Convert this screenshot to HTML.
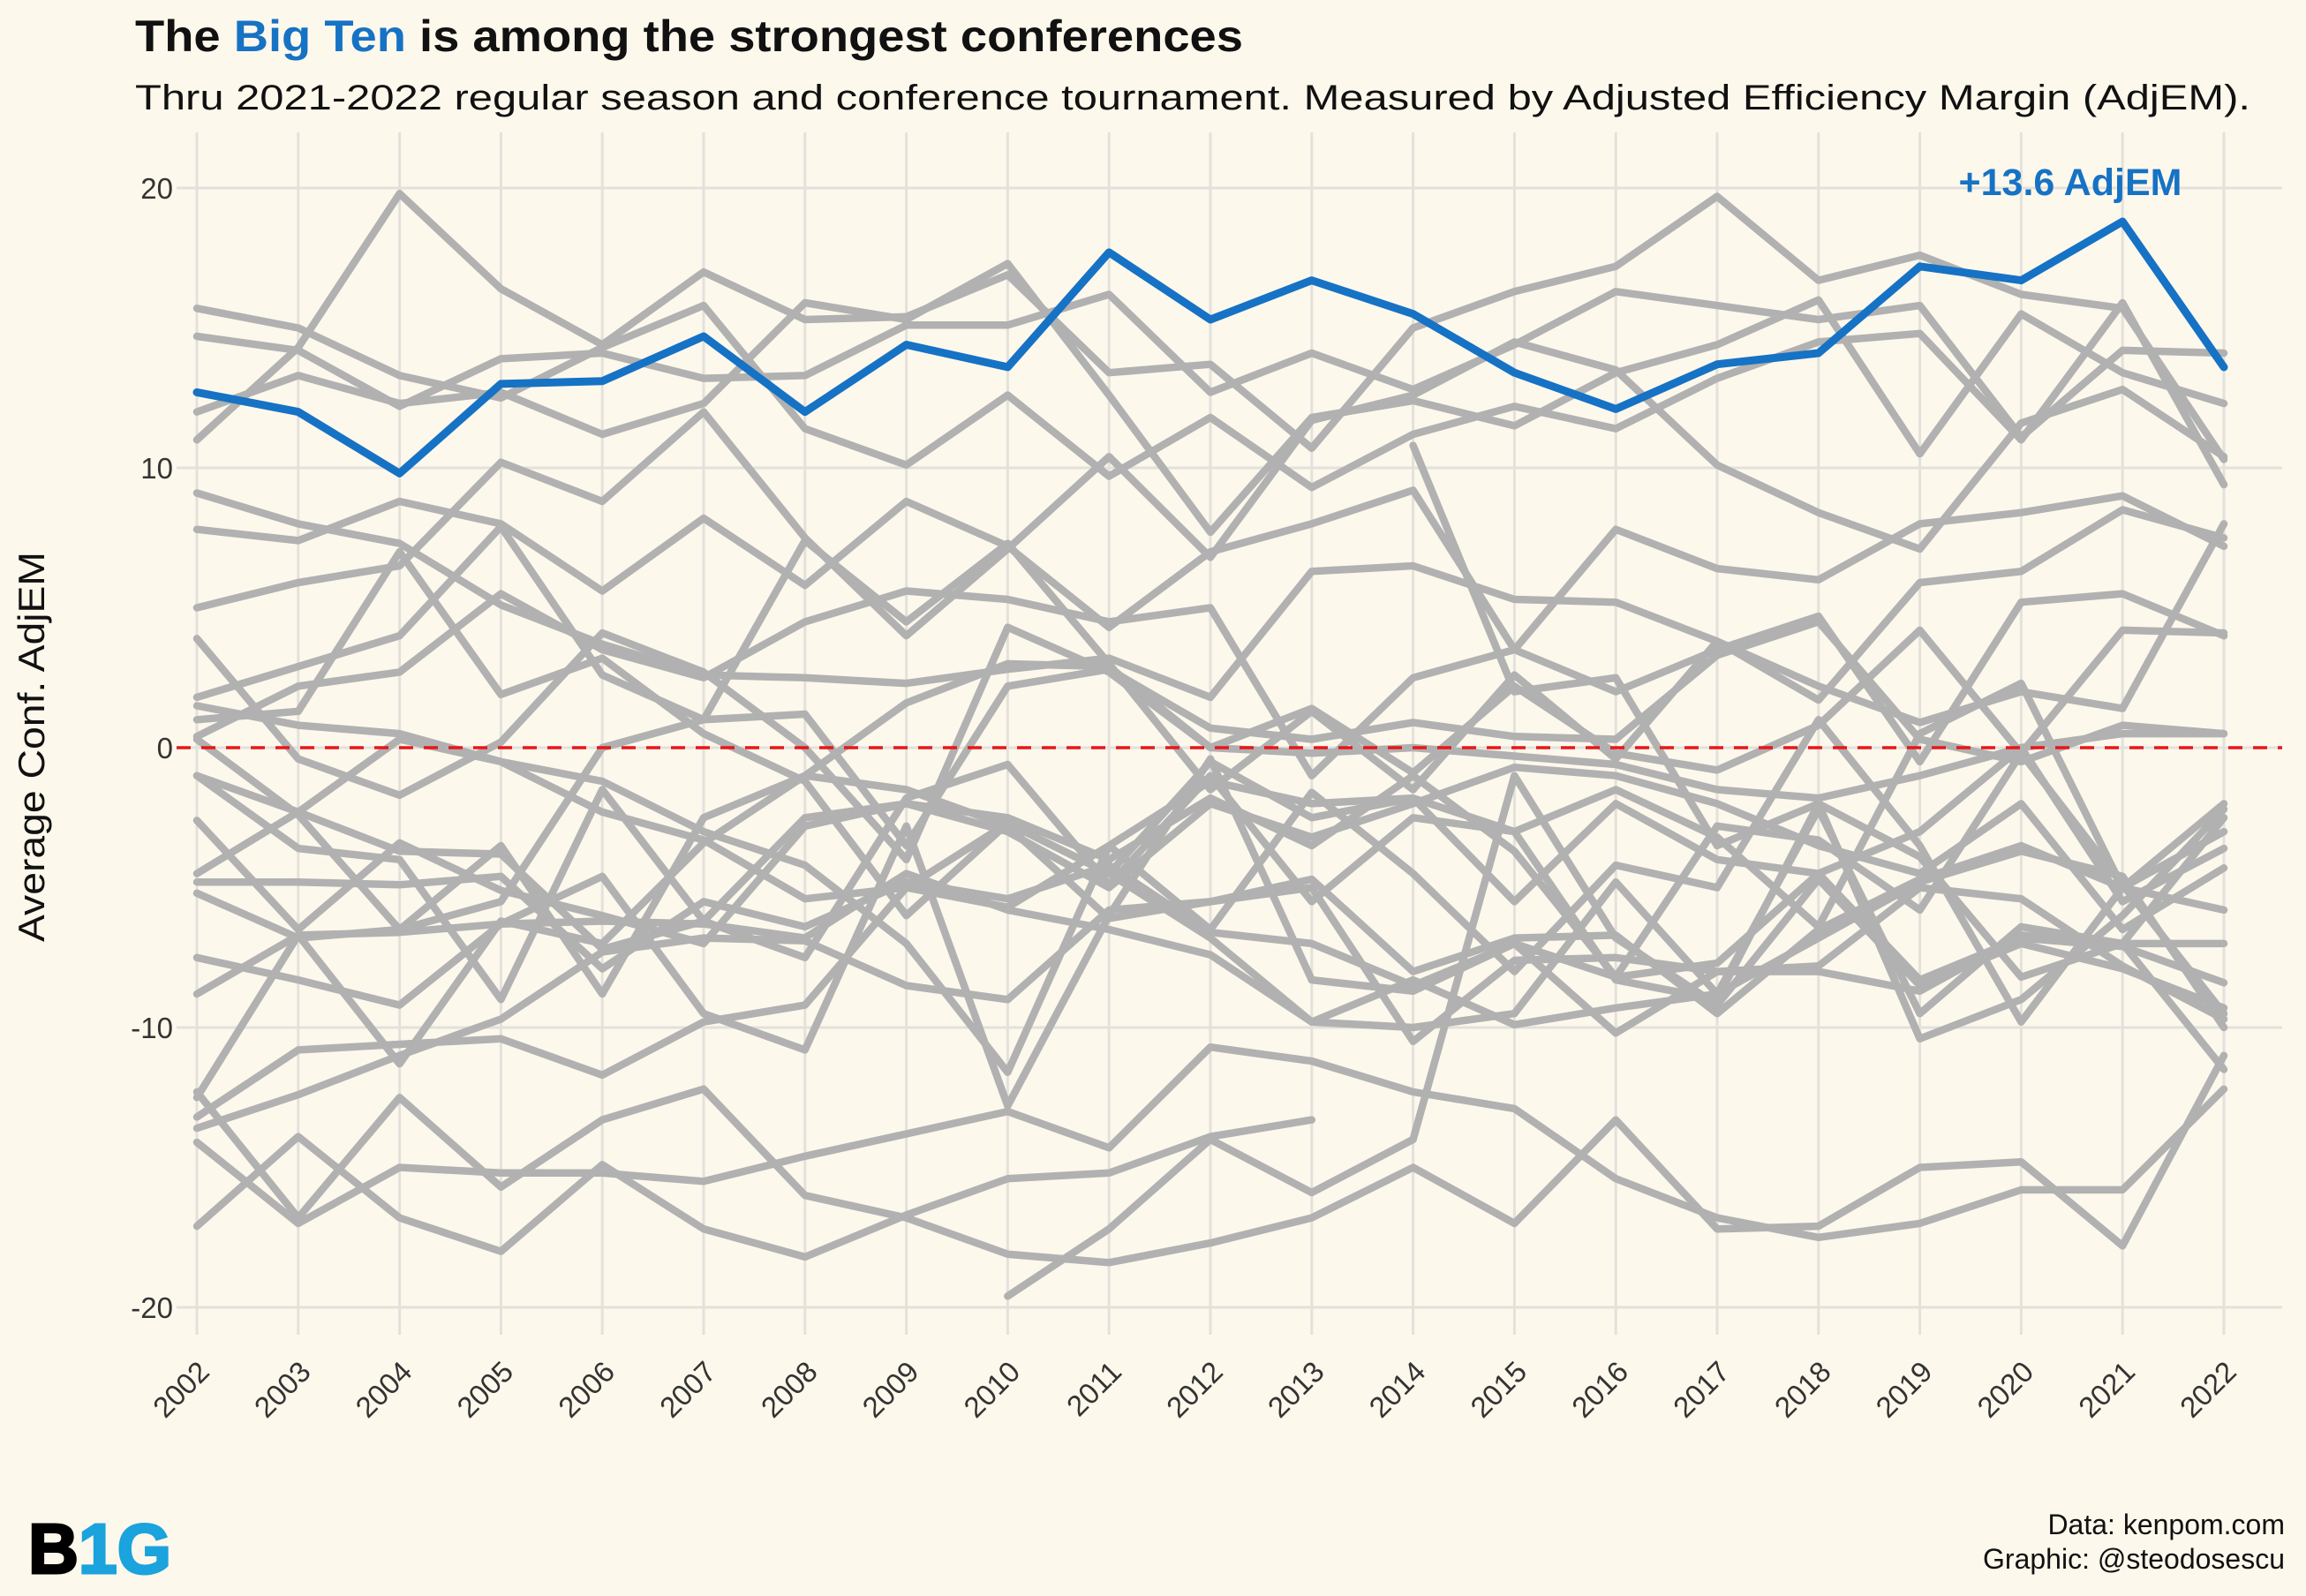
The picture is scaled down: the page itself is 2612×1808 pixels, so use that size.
<!DOCTYPE html>
<html><head><meta charset="utf-8">
<style>
html,body{margin:0;padding:0;background:#fdf8ec;}
svg{display:block;font-family:"Liberation Sans",sans-serif;}
</style></head>
<body>
<svg id="chart" width="2612" height="1808" viewBox="0 0 2612 1808" xmlns="http://www.w3.org/2000/svg">
<rect width="2612" height="1808" fill="#fdf8ec"/>
<text x="153" y="58" font-size="50" font-weight="bold" fill="#111" textLength="1255" lengthAdjust="spacingAndGlyphs">The <tspan fill="#1672c4">Big Ten</tspan> is among the strongest conferences</text>
<text x="153" y="124" font-size="40" fill="#111" textLength="2396" lengthAdjust="spacingAndGlyphs">Thru 2021-2022 regular season and conference tournament. Measured by Adjusted Efficiency Margin (AdjEM).</text>
<g id="grid"></g>
<g id="grays"></g>
<line id="zero" stroke="#e8161b" stroke-width="3.5" stroke-dasharray="16,12"/>
<g id="blue"></g>
<g id="axes"></g>
<text x="50" y="846" font-size="42" fill="#111" text-anchor="middle" textLength="442" lengthAdjust="spacingAndGlyphs" transform="rotate(-90 50 846)">Average Conf. AdjEM</text>
<text x="2588" y="1738" font-size="32" fill="#111" text-anchor="end">Data: kenpom.com</text>
<text x="2588" y="1777" font-size="32" fill="#111" text-anchor="end">Graphic: @steodosescu</text>
<text x="32" y="1782" font-size="80" font-weight="bold" fill="#000" textLength="162" lengthAdjust="spacingAndGlyphs" stroke="#000" stroke-width="3">B<tspan fill="#1aa3dd" stroke="#1aa3dd">1G</tspan></text>
</svg>
<script>
const years=[2002,2003,2004,2005,2006,2007,2008,2009,2010,2011,2012,2013,2014,2015,2016,2017,2018,2019,2020,2021,2022];
const yTicks=[20,10,0,-10,-20];
const bigTen=[12.7,12.0,9.8,13.0,13.1,14.7,12.0,14.4,13.6,17.7,15.3,16.7,15.5,13.4,12.1,13.7,14.1,17.2,16.7,18.8,13.6];
const bigTenLabel="+13.6 AdjEM";
const s01=[11.0,14.3,19.8,16.4,14.4,17.0,15.3,15.4,16.9,13.4,13.7,10.7,15.0,16.3,17.2,19.7,16.7,17.6,16.2,15.7,10.3];
const s02=[15.7,15.0,13.3,12.5,14.3,15.8,11.4,10.1,12.6,9.7,11.8,9.3,11.2,12.2,11.4,13.2,14.5,14.8,11.0,15.9,9.4];
const s03=[14.7,14.2,12.2,13.9,14.1,13.2,13.3,15.1,15.1,16.2,12.7,14.1,12.8,14.4,16.3,15.8,15.3,15.8,11.1,14.2,14.1];
const s04=[12.0,13.3,12.3,12.7,11.2,12.3,15.9,15.3,17.3,12.6,7.7,11.8,12.4,11.5,13.4,14.4,16.0,10.5,15.5,13.4,12.3];
const s05=[7.8,7.4,8.8,8.0,5.6,8.2,5.8,8.8,7.2,4.3,7.0,8.0,9.2,3.5,7.8,6.4,6.0,8.0,8.4,9.0,7.2];
const s06=[5.0,5.9,6.5,10.2,8.8,12.0,7.5,4.0,7.1,10.4,6.8,11.7,12.6,14.5,13.5,10.1,8.4,7.1,11.6,12.8,10.4];
const s07=[9.1,8.0,7.3,5.1,3.7,2.6,2.5,2.3,2.8,3.2,1.8,6.3,6.5,5.3,5.2,3.8,1.7,5.9,6.3,8.5,7.5];
const s08=[1.8,2.9,4.0,7.9,2.6,1.0,1.2,-3.5,2.2,2.8,0.7,0.3,0.9,0.4,0.3,3.3,4.5,0.3,-0.5,0.8,0.5];
const s09=[0.4,2.2,2.7,5.5,3.5,2.5,4.5,5.6,5.3,4.5,5.0,-1.0,2.5,3.5,2.0,3.5,4.7,-0.5,5.2,5.5,4.0];
const s10=[3.9,-0.4,-1.7,0.2,4.1,2.7,0.0,-4.0,4.3,2.7,0.0,1.4,-0.9,2.2,-0.2,-0.8,0.8,4.2,-0.2,4.2,4.1];
const s11=[1.0,1.3,7.0,1.9,3.2,0.5,-1.2,-6.0,-2.7,-4.5,-0.5,-2.5,-1.8,-3.0,-1.5,-3.2,-6.4,0.5,2.3,-5.0,-2.0];
const s12=[-1.0,-2.3,0.3,-0.5,-2.3,-3.3,-5.4,-5.0,-5.7,-3.5,-1.2,-2.0,-1.8,-5.5,-2.0,-4.0,-4.5,-3.0,0.0,0.5,0.5];
const s13=[-4.8,-4.8,-4.9,-4.6,-7.9,-5.5,-6.4,-4.8,-5.4,-4.2,-6.6,-7.0,-8.5,-7.0,-8.2,-7.7,-4.5,-8.3,-6.8,-7.1,-8.4];
const s14=[-4.5,-2.3,-3.7,-3.8,-7.2,-6.2,-2.5,-2.0,-3.0,-5.0,-2.0,-3.2,-2.0,-0.7,-1.0,-2.0,-3.5,-4.5,-2.0,-6.5,-4.3];
const s15=[-5.2,-6.8,-6.5,-3.5,-8.8,-2.5,-1.0,1.6,3.0,2.9,0.0,-0.2,0.0,-0.3,-0.6,-1.5,-1.8,-1.0,0.0,-5.5,-3.6];
const s16=[-2.6,-6.5,-3.4,-5.1,-6.0,-7.0,-2.8,-2.0,-2.5,-4.0,-1.8,-3.5,-1.0,-3.7,-8.2,-2.8,-3.3,-5.8,-0.2,-4.9,-9.5];
const s17=[-7.5,-8.3,-9.2,-6.3,-6.2,-6.3,-6.8,-4.5,-5.8,-6.5,-7.4,-9.8,-10.0,-9.5,-4.8,-8.8,-2.2,-9.5,-6.4,-7.0,-7.0];
const s18=[-8.8,-6.7,-11.3,-6.2,-7.0,-3.4,-1.0,-1.5,-2.8,-6.1,-5.5,-4.7,-8.0,-6.8,-6.7,-9.5,-6.5,-4.7,-3.5,-5.0,-5.8];
const s19=[-12.3,-16.8,-12.5,-15.7,-13.3,-12.2,-16.0,-16.8,-18.1,-18.4,-17.7,-16.8,-15.0,-17.0,-13.3,-17.2,-17.1,-15.0,-14.8,-17.8,-11.0];
const s20=[-13.2,-10.8,-10.6,-10.4,-11.7,-9.8,-9.2,-5.0,-2.7,-4.5,-6.8,-9.8,-8.3,-9.9,-9.3,-8.8,-6.8,-4.8,-3.7,-4.6,-10.0];
const s21=[-13.6,-12.4,-11.0,-9.7,-7.3,-6.8,-6.9,-8.5,-9.0,-5.8,-5.5,-5.0,-10.5,-7.6,-7.5,-8.0,-7.8,-5.0,-5.4,-7.8,-9.7];
const s22=[-14.1,-17.0,-15.0,-15.2,-15.2,-15.5,-14.6,-13.8,-13.0,-14.3,-10.7,-11.2,-12.3,-12.9,-15.4,-16.8,-17.5,-17.0,-15.8,-15.8,-12.2];
const s23=[-17.1,-13.9,-16.8,-18.0,-14.9,-17.2,-18.2,-16.7,-15.4,-15.2,-13.9,-13.3,null,null,null,null,null,null,null,null,null];
const s24=[null,null,null,null,null,null,null,null,-19.6,-17.2,-14.0,-15.9,-14.0,-1.0,-6.8,-9.2,-4.7,-8.5,-7.0,-7.9,-9.3];
const s25=[0.3,-2.4,-6.5,-5.5,0.0,1.0,7.4,4.5,7.3,3.0,-1.5,1.3,-1.5,2.6,-0.4,3.8,2.2,0.9,2.0,1.4,8.0];
const s26=[-12.5,-6.7,-6.6,-6.3,-4.6,-9.5,-10.8,-2.8,-12.8,-6.0,-0.4,-8.3,-8.7,-7.0,-10.2,-8.0,-8.0,-8.7,-6.7,-7.0,-2.5];
const s27=[null,null,null,null,null,null,null,null,null,null,null,null,10.8,2.0,2.5,-3.5,-2.0,-10.4,-9.0,-6.0,-2.2];
const s28=[1.5,0.8,0.5,-0.5,-1.2,-3.0,-4.2,-7.0,-11.6,-3.5,-6.5,-1.6,-4.5,-8.0,-4.2,-5.0,1.0,-3.5,-9.8,-5.0,-3.0];
const s29=[-1.0,-3.6,-4.0,-9.0,-1.5,-6.2,-7.5,-1.8,-0.6,-4.9,-1.0,-5.5,-2.5,-3.0,-8.3,-9.0,-2.0,-3.9,-8.2,-7.0,-11.5];
const others=[s01,s02,s03,s04,s05,s06,s07,s08,s09,s10,s11,s12,s13,s14,s15,s16,s17,s18,s19,s20,s21,s22,s23,s24,s25,s26,s27,s28,s29];

const NS="http://www.w3.org/2000/svg";
const x0=223,x1=2519,yTop=213,yBot=1481;
function xs(yr){return x0+(yr-years[0])*(x1-x0)/(years[years.length-1]-years[0]);}
function ys(v){return yTop+(20-v)*(yBot-yTop)/40;}
function mk(tag,attrs,parent){const e=document.createElementNS(NS,tag);for(const k in attrs)e.setAttribute(k,attrs[k]);parent.appendChild(e);return e;}
function pathD(vals){let d="",pen=false;vals.forEach((v,i)=>{if(v===null){pen=false;return;}d+=(pen?"L":"M")+xs(years[i]).toFixed(1)+","+ys(v).toFixed(1);pen=true;});return d;}

const grid=document.getElementById('grid');
const axes=document.getElementById('axes');
years.forEach(yr=>{
  const l=mk('line',{x1:xs(yr),x2:xs(yr),y1:150,y2:1512,stroke:'#e3e1dc','stroke-width':3},grid);
  
  
  const t=mk('text',{x:xs(yr)+16,y:1556,'font-size':33,fill:'#333','text-anchor':'end',transform:'rotate(-45 '+(xs(yr)+16)+' 1556)'},axes);
  t.textContent=yr;
  
  
});
yTicks.forEach(v=>{
  const l=mk('line',{x1:200,x2:2585,y1:ys(v),y2:ys(v),stroke:'#e3e1dc','stroke-width':3},grid);
  
  
  const t=mk('text',{x:196,y:ys(v)+12,'font-size':33,fill:'#333','text-anchor':'end'},axes);
  t.textContent=v;
  
  
});
const gg=document.getElementById('grays');
others.forEach(s=>{
  const p=mk('path',{d:pathD(s),fill:'none',stroke:'#b1b1b1','stroke-width':8.5,'stroke-linejoin':'round','stroke-linecap':'round'},gg);
  
  
});
const z=document.getElementById('zero');
z.setAttribute('x1',200);z.setAttribute('x2',2585);z.setAttribute('y1',ys(0));z.setAttribute('y2',ys(0));
const bg=document.getElementById('blue');
const bp=mk('path',{d:pathD(bigTen),fill:'none',stroke:'#1672c4','stroke-width':9,'stroke-linejoin':'round','stroke-linecap':'round'},bg);


const lab=mk('text',{x:2345,y:221,'font-size':43,'font-weight':'bold',fill:'#1672c4','text-anchor':'middle'},bg);
lab.textContent=bigTenLabel;


</script>
</body></html>
